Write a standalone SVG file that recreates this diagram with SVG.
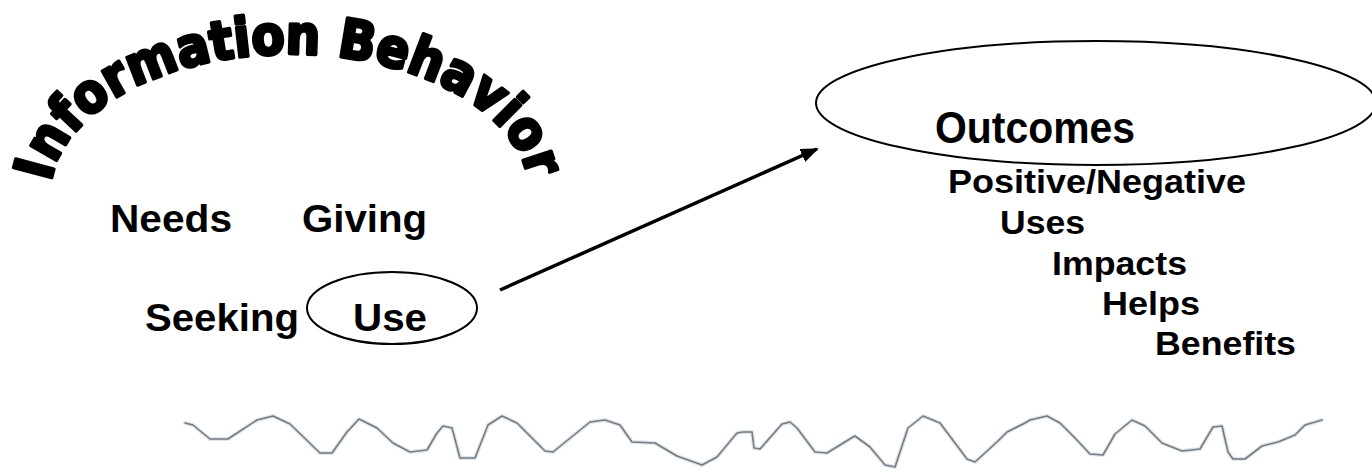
<svg xmlns="http://www.w3.org/2000/svg" width="1372" height="470" viewBox="0 0 1372 470">
<style>
.t{font-family:"Liberation Sans",Arial,sans-serif;font-weight:bold;fill:#000}
.oval{fill:none;stroke:#000;stroke-width:2}
.title{font-family:"DejaVu Sans","Liberation Sans",sans-serif;font-weight:bold;font-size:54px;fill:#000;stroke:#000;stroke-width:3.5;stroke-linejoin:round}
.wave{fill:none;stroke-linejoin:round;stroke-linecap:round}
</style>
<defs>
<path id="arc" d="M 51 182 A 240 141 0 0 1 529 182"/>
<marker id="ah" markerWidth="18" markerHeight="14" refX="16" refY="7" orient="auto" markerUnits="userSpaceOnUse">
<path d="M0,0 L18,7 L0,14 Z" fill="#000"/>
</marker>
</defs>
<rect width="1372" height="470" fill="#fff"/>
<g id="title">
<text class="title"><textPath href="#arc" textLength="580" lengthAdjust="spacingAndGlyphs">Information Behavior</textPath></text>
</g>
<g id="needs"><text class="t" x="110" y="232" font-size="38" textLength="122" lengthAdjust="spacingAndGlyphs">Needs</text></g>
<g id="giving"><text class="t" x="302" y="232" font-size="38" textLength="125" lengthAdjust="spacingAndGlyphs">Giving</text></g>
<g id="seeking"><text class="t" x="145" y="331" font-size="38" textLength="154" lengthAdjust="spacingAndGlyphs">Seeking</text></g>
<g id="use">
<ellipse class="oval" cx="392" cy="308" rx="85" ry="36"/>
<text class="t" x="353" y="331" font-size="38" textLength="74" lengthAdjust="spacingAndGlyphs">Use</text>
</g>
<g id="outcomes">
<ellipse class="oval" cx="1096" cy="103" rx="280" ry="62"/>
<text class="t" x="935" y="143" font-size="44" textLength="200" lengthAdjust="spacingAndGlyphs">Outcomes</text>
</g>
<g id="outcome-list">
<text class="t" x="948" y="193" font-size="33" textLength="298" lengthAdjust="spacingAndGlyphs">Positive/Negative</text>
<text class="t" x="1000" y="234" font-size="33" textLength="85" lengthAdjust="spacingAndGlyphs">Uses</text>
<text class="t" x="1052" y="275" font-size="33" textLength="135" lengthAdjust="spacingAndGlyphs">Impacts</text>
<text class="t" x="1102" y="315" font-size="33" textLength="98" lengthAdjust="spacingAndGlyphs">Helps</text>
<text class="t" x="1155" y="355" font-size="33" textLength="141" lengthAdjust="spacingAndGlyphs">Benefits</text>
</g>
<g id="connectors">
<line x1="500" y1="290" x2="817" y2="149" stroke="#000" stroke-width="3.5" marker-end="url(#ah)"/>
</g>
<g id="wave">
<polyline class="wave" stroke="#dbe6f0" stroke-width="4" points="185,423 193,425 210,439 228,439 257,420 273,416 290,424 320,453 332,453 347,432 359,419 377,428 393,443 410,452 427,450 437,433 443,426 452,428 460,458 475,458 488,425 502,416 517,423 545,451 553,452 590,422 605,420 620,425 632,442 655,443 677,456 702,465 717,457 737,433 743,432 752,432 754,448 760,449 782,424 790,422 797,428 815,452 827,453 853,437 855,436 870,447 885,465 895,467 908,428 923,416 940,423 967,459 975,462 998,441 1007,432 1025,423 1030,420 1047,416 1060,423 1075,438 1090,454 1103,455 1115,434 1132,420 1145,426 1162,443 1182,451 1200,449 1213,427 1222,426 1228,452 1233,459 1245,459 1262,446 1278,442 1295,435 1305,425 1322,420"/>
<polyline class="wave" stroke="#7a7a7a" stroke-width="1.6" points="185,423 193,425 210,439 228,439 257,420 273,416 290,424 320,453 332,453 347,432 359,419 377,428 393,443 410,452 427,450 437,433 443,426 452,428 460,458 475,458 488,425 502,416 517,423 545,451 553,452 590,422 605,420 620,425 632,442 655,443 677,456 702,465 717,457 737,433 743,432 752,432 754,448 760,449 782,424 790,422 797,428 815,452 827,453 853,437 855,436 870,447 885,465 895,467 908,428 923,416 940,423 967,459 975,462 998,441 1007,432 1025,423 1030,420 1047,416 1060,423 1075,438 1090,454 1103,455 1115,434 1132,420 1145,426 1162,443 1182,451 1200,449 1213,427 1222,426 1228,452 1233,459 1245,459 1262,446 1278,442 1295,435 1305,425 1322,420"/>
</g>
</svg>
